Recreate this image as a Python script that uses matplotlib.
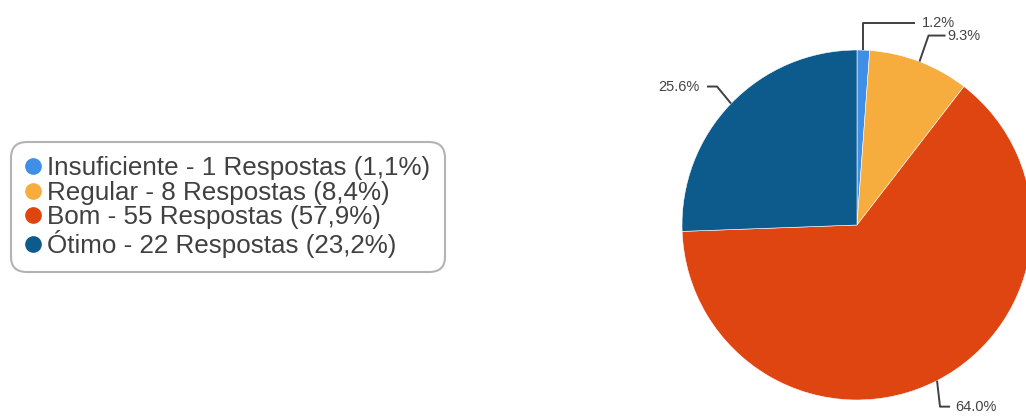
import numpy as np
import matplotlib
matplotlib.use("Agg")
import matplotlib.pyplot as plt
from matplotlib.lines import Line2D

plt.rcParams['font.family'] = ['Liberation Sans', 'DejaVu Sans']

# survey answers
categories = ['Insuficiente', 'Regular', 'Bom', 'Ótimo']
responses = [1, 8, 55, 22]
legend_pct = ['1,1%', '8,4%', '57,9%', '23,2%']
colors = ['#3f8fe6', '#f6ad3e', '#df4510', '#0d5b8c']

W, H = 1026, 416
fig = plt.figure(figsize=(W / 100, H / 100), dpi=100)
fig.patch.set_facecolor('white')

ax = fig.add_axes([0, 0, 1, 1])
cx, cy, r = 857, 191, 175
wedges, _ = ax.pie(responses, colors=colors, startangle=90, counterclock=False,
                   center=(cx, cy), radius=r,
                   wedgeprops=dict(edgecolor='white', linewidth=0.4))
ax.set_xlim(0, W)
ax.set_ylim(0, H)
ax.set_aspect('auto')
ax.axis('off')

# leader lines: (dx, dy) to elbow, horizontal run, gap before text
leaders = [
    (0, 27, 52, 6),
    (9, 26, 17, 2),
    (3, -26, 10, 5),
    (-14, 17, -10, 8),
]

total = sum(responses)
for w, n, (dx, dy, run, gap) in zip(wedges, responses, leaders):
    ang = np.deg2rad((w.theta1 + w.theta2) / 2)
    x0, y0 = cx + r * np.cos(ang), cy + r * np.sin(ang)
    x1, y1 = x0 + dx, y0 + dy
    x2 = x1 + run
    ax.plot([x0, x1, x2], [y0, y1, y1], color='#404040', lw=1.4,
            solid_capstyle='butt', solid_joinstyle='round')
    ha = 'left' if run > 0 else 'right'
    tx = x2 + (gap if run > 0 else -gap)
    ax.text(tx, y1, f'{100 * n / total:.1f}%', ha=ha, va='center',
            fontsize=10.5, color='#444444')

handles = [Line2D([], [], marker='o', linestyle='none', markersize=11,
                  markerfacecolor=c, markeredgecolor=c) for c in colors]
labels = [f'{c} - {n} Respostas ({p})'
          for c, n, p in zip(categories, responses, legend_pct)]
leg = fig.legend(handles, labels, loc='upper left',
                 bbox_to_anchor=(11 / W, (H - 142) / H), borderaxespad=0,
                 fontsize=18.7, labelspacing=0.02, handlelength=0.6,
                 handletextpad=0.25, borderpad=0.55, frameon=True,
                 fancybox=True, edgecolor='#a0a0a0', labelcolor='#404040')
leg.get_frame().set_linewidth(1.5)
leg.get_frame().set_boxstyle('round', pad=0, rounding_size=0.6)

fig.savefig('out.png', dpi=100)
